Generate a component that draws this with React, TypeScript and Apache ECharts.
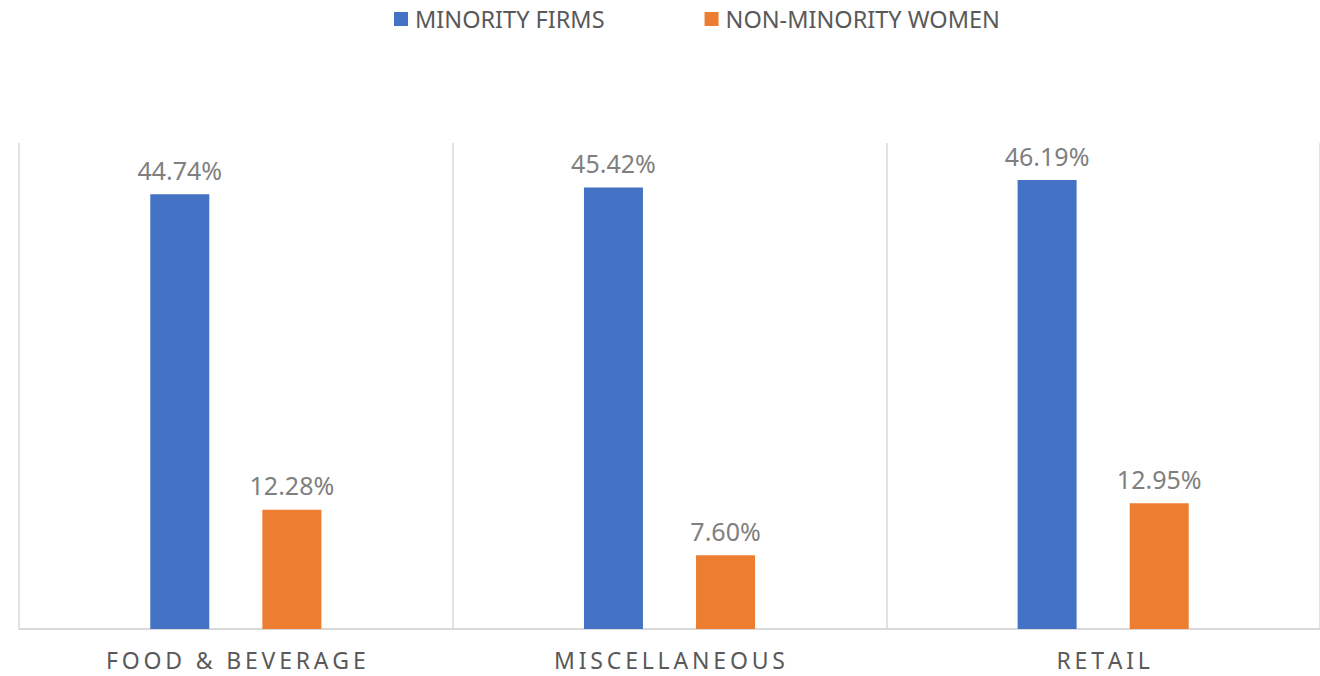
import React, { useEffect, useRef } from "react";
import * as echarts from "echarts";

const categories = ["FOOD & BEVERAGE", "MISCELLANEOUS", "RETAIL"];
const minorityFirms = [44.74, 45.42, 46.19];
const nonMinorityWomen = [12.28, 7.6, 12.95];
const seriesNames = ["MINORITY FIRMS", "NON-MINORITY WOMEN"];

const FONT = "'Noto Sans', sans-serif";

export default function App() {
  const ref = useRef<HTMLDivElement>(null);
  useEffect(() => {
    if (!ref.current) return;
    const chart = echarts.init(ref.current, undefined, { renderer: "svg" });
    const label = {
      show: true,
      position: "top",
      distance: 12,
      fontSize: 25,
      fontFamily: FONT,
      color: "#7f7f7f",
      formatter: (p: any) => Number(p.value).toFixed(2) + "%",
    };
    chart.setOption({
      animation: false,
      backgroundColor: "#ffffff",
      legend: {
        top: 2,
        left: 389,
        itemWidth: 14,
        itemHeight: 14,
        itemGap: 100,
        icon: "rect",
        textStyle: { fontSize: 23.5, fontFamily: FONT, color: "#595959", padding: [0, 0, 0, 2] },
        data: seriesNames,
      },
      grid: { left: 19, top: 143, width: 1302, bottom: 47, containLabel: false },
      xAxis: {
        type: "category",
        data: categories,
        axisTick: { show: false },
        axisLine: { lineStyle: { color: "#d9d9d9", width: 2 } },
        splitLine: { show: true, lineStyle: { color: "#d9d9d9", width: 1.5 } },
        axisLabel: {
          margin: 21,
          fontSize: 23,
          lineHeight: 20,
          fontFamily: FONT,
          color: "#595959",
          formatter: (s: string) => s.split("").join("\u2009"),
        },
      },
      yAxis: { type: "value", min: 0, max: 50, show: false, splitLine: { show: false } },
      series: [
        {
          name: seriesNames[0],
          type: "bar",
          data: minorityFirms,
          barWidth: 59,
          barGap: "90%",
          itemStyle: { color: "#4472c4" },
          label,
        },
        {
          name: seriesNames[1],
          type: "bar",
          data: nonMinorityWomen,
          barWidth: 59,
          barGap: "90%",
          itemStyle: { color: "#ed7d31" },
          label,
        },
      ],
    });
    return () => chart.dispose();
  }, []);
  return (
    <div
      ref={ref}
      style={{ position: "fixed", left: 0, top: 0, width: 1320, height: 676 }}
    />
  );
}
